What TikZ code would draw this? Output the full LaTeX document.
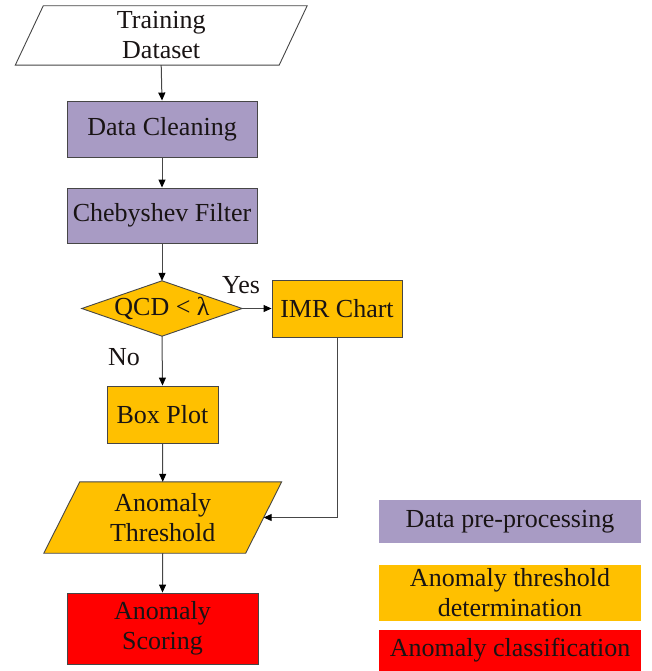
\documentclass[tikz,border=0pt]{standalone}
\usepackage{fontspec}
\setmainfont{Liberation Serif}
\usetikzlibrary{arrows.meta}
\definecolor{lav}{RGB}{168,155,196}
\definecolor{gold}{RGB}{255,192,0}
\definecolor{redbox}{RGB}{255,0,0}
\definecolor{edgegray}{RGB}{70,70,70}
\definecolor{linegray}{RGB}{70,70,70}
\definecolor{txt}{RGB}{25,20,20}
\tikzset{
  every node/.style={font=\rmfamily\fontsize{26}{30}\selectfont, text=txt, align=center},
  boxnode/.style={draw=edgegray, line width=0.9pt, inner sep=0pt},
  hidden/.style={inner sep=0pt},
  shapeline/.style={draw=edgegray, line width=0.9pt},
  conn/.style={draw=linegray, line width=1pt, -{Stealth[length=8pt,width=7pt,inset=0pt,color=black]}},
  legendbox/.style={inner sep=0pt, minimum width=262pt, draw=none}
}
\begin{document}
\begin{tikzpicture}[x=1pt,y=-1pt]
\useasboundingbox (0,0) rectangle (651,671);
% Training Dataset (parallelogram drawn around an invisible node)
\node[hidden, minimum width=263.5pt, minimum height=59pt] (td) at (161.2,35.5) {};
\draw[shapeline, fill=white] ([xshift=14pt]td.north west) -- ([xshift=14pt]td.north east) -- ([xshift=-14pt]td.south east) -- ([xshift=-14pt]td.south west) -- cycle;
\node at (td) {Training\\Dataset};
% Data Cleaning
\node[boxnode, fill=lav, minimum width=190pt, minimum height=56pt] (dc) at (162,129) {Data Cleaning};
% Chebyshev Filter
\node[boxnode, fill=lav, minimum width=190pt, minimum height=55pt] (cf) at (162,215.5) {Chebyshev Filter};
% Decision diamond
\node[hidden, minimum width=160pt, minimum height=55pt] (q) at (162,308.5) {};
\draw[shapeline, fill=gold] (q.north) -- (q.east) -- (q.south) -- (q.west) -- cycle;
\node at (q) {QCD < λ};
% IMR Chart
\node[boxnode, fill=gold, minimum width=130pt, minimum height=57pt] (imr) at (337,308.5) {IMR Chart};
% Box Plot
\node[boxnode, fill=gold, minimum width=111pt, minimum height=57pt] (bp) at (162.5,414.5) {Box Plot};
% Anomaly Threshold
\node[hidden, minimum width=201.5pt, minimum height=71pt] (at) at (162.75,517.5) {};
\draw[shapeline, fill=gold] ([xshift=18pt]at.north west) -- ([xshift=18pt]at.north east) -- ([xshift=-18pt]at.south east) -- ([xshift=-18pt]at.south west) -- cycle;
\node at (at) {Anomaly\\Threshold};
% Anomaly Scoring
\node[boxnode, fill=redbox, minimum width=191pt, minimum height=71pt] (as) at (162.5,628.5) {Anomaly\\Scoring};
% Labels
\node[anchor=base] (yes) at (241,293) {Yes};
\node[anchor=base] (no) at (124,365) {No};
% Legend
\node[legendbox, fill=lav, minimum height=43pt] (l1) at (510,521.5) {Data pre-processing};
\node[legendbox, fill=gold, minimum height=56pt] (l2) at (510,593) {Anomaly threshold\\determination};
\node[legendbox, fill=redbox, minimum height=41pt] (l3) at (510,650.5) {Anomaly classification};
% Connectors
\draw[conn] (td.south) -- (dc.north);
\draw[conn] (dc.south) -- (cf.north);
\draw[conn] (cf.south) -- (q.north);
\draw[conn] (q.east) -- (imr.west);
\draw[conn] (q.south) -- (bp.north);
\draw[conn] (bp.south) -- (at.north);
\draw[conn] (imr.south) |- (at.east);
\draw[conn] (at.south) -- (as.north);
\end{tikzpicture}
\end{document}
